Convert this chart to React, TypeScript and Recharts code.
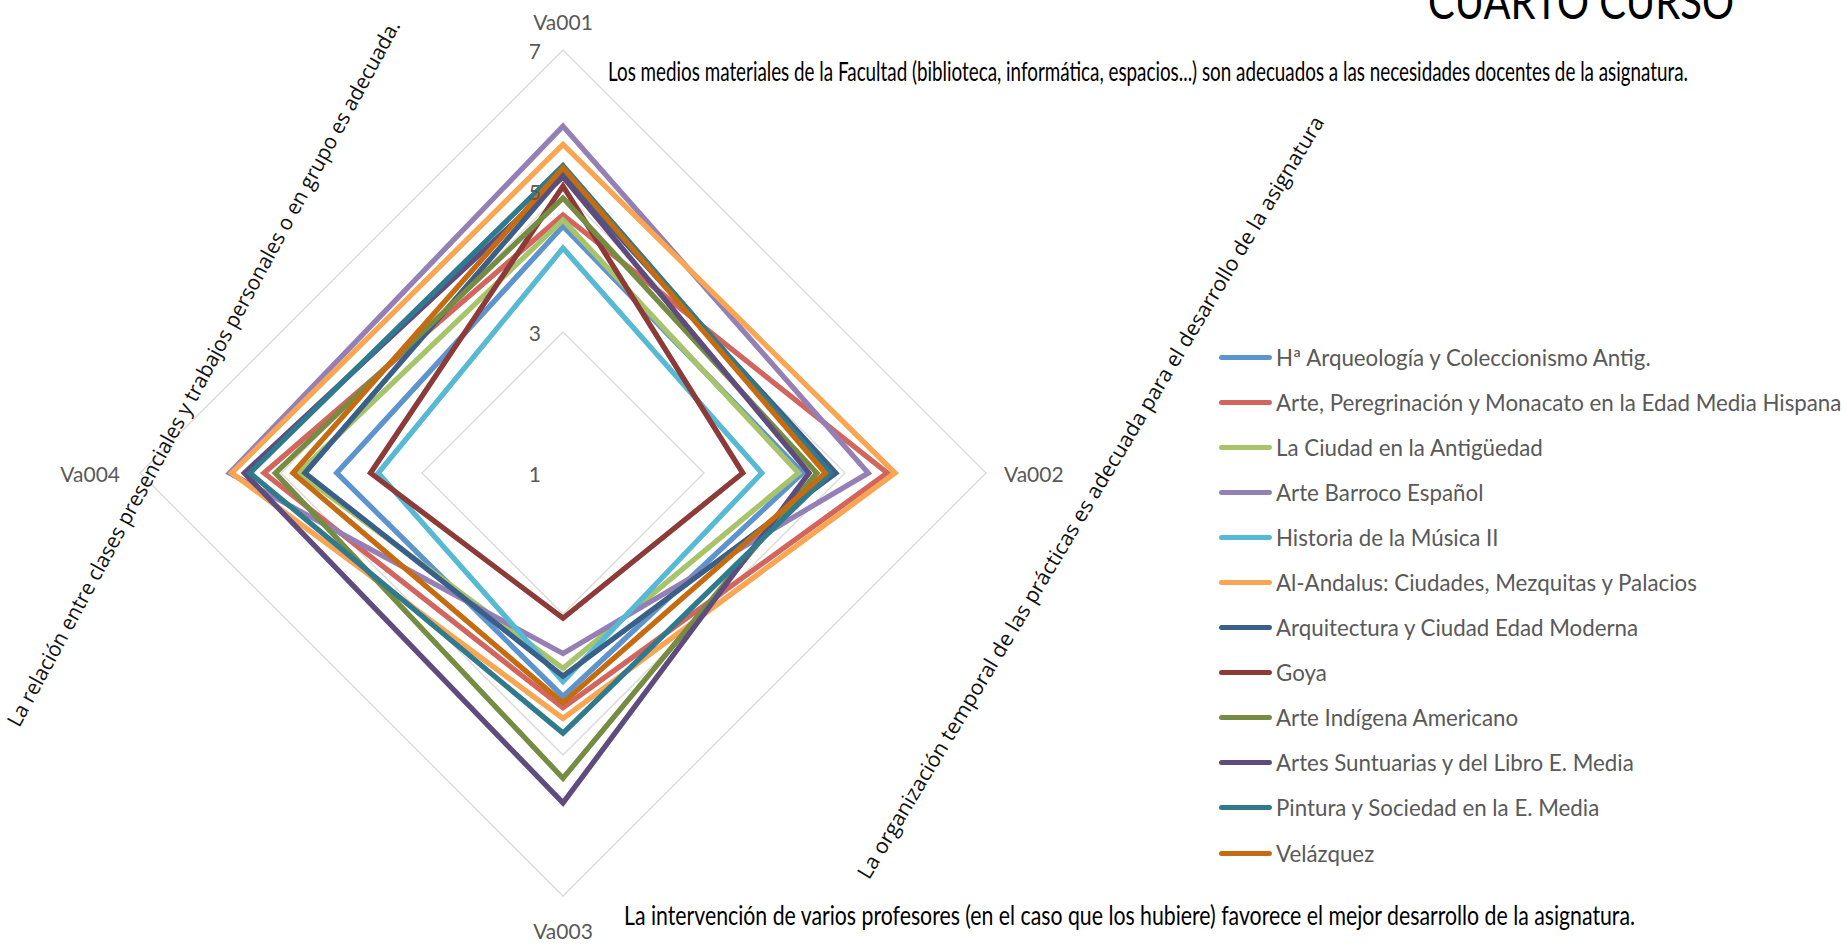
import React from 'react';
import { RadarChart, Radar, PolarGrid, PolarAngleAxis, PolarRadiusAxis } from 'recharts';

const CATEGORIES = ['Va001', 'Va002', 'Va003', 'Va004'];
const RADIUS_TICKS = [1, 3, 5, 7];

const SERIES_NAMES = [
  'Hª Arqueología y Coleccionismo Antig.',
  'Arte, Peregrinación y Monacato en la Edad Media Hispana',
  'La Ciudad en la Antigüedad',
  'Arte Barroco Español',
  'Historia de la Música II',
  'Al-Andalus: Ciudades, Mezquitas y Palacios',
  'Arquitectura y Ciudad Edad Moderna',
  'Goya',
  'Arte Indígena Americano',
  'Artes Suntuarias y del Libro E. Media',
  'Pintura y Sociedad en la E. Media',
  'Velázquez',
];

const SERIES_COLORS = [
  '#5E94CE', '#D2665F', '#A8C46A', '#9480B5', '#57B9D4', '#F9A552',
  '#3A6089', '#8C3B38', '#758C42', '#5F4C7E', '#2F7A8D', '#C56C12',
];

// values for Va001, Va002, Va003, Va004
const S01 = [4.5, 4.4, 4.17, 4.21];
const S02 = [4.66, 5.6, 4.33, 5.24];
const S03 = [4.59, 4.34, 3.77, 4.75];
const S04 = [5.92, 5.33, 3.56, 5.73];
const S05 = [4.19, 3.82, 3.96, 3.62];
const S06 = [5.66, 5.71, 4.48, 5.7];
const S07 = [5.23, 4.87, 3.88, 4.66];
const S08 = [5.07, 3.55, 3.06, 3.73];
const S09 = [4.9, 4.6, 5.33, 5.08];
const S10 = [5.2, 4.49, 5.68, 5.52];
const S11 = [5.36, 4.79, 4.69, 5.44];
const S12 = [5.33, 4.72, 4.26, 4.83];

const SERIES_VALUES = [S01, S02, S03, S04, S05, S06, S07, S08, S09, S10, S11, S12];

const TITLE = 'CUARTO CURSO';
const NOTE_TOP = 'Los medios materiales de la Facultad (biblioteca, informática, espacios...) son adecuados a las necesidades docentes de la asignatura.';
const NOTE_BOTTOM = 'La intervención de varios profesores (en el caso que los hubiere) favorece el mejor desarrollo de la asignatura.';
const NOTE_LEFT = 'La relación entre clases presenciales y trabajos personales o en grupo es adecuada.';
const NOTE_RIGHT = 'La organización temporal de las prácticas es adecuada para el desarrollo de la asignatura';

const data = CATEGORIES.map((axis, i) => {
  const row: Record<string, any> = { axis };
  SERIES_VALUES.forEach((vals, s) => {
    row['s' + s] = vals[i];
  });
  return row;
});

const LABEL_FONT = 'Lato, "Open Sans", sans-serif';
const NOTE_SCALE = 0.67;

const RadiusTick = (props: any) => {
  const { x, y, payload } = props;
  return (
    <text x={x - 22} y={y} textAnchor="end" dominantBaseline="central" fill="#595959" fontSize={21} fontFamily={LABEL_FONT}>
      {payload.value}
    </text>
  );
};

const AngleTick = (props: any) => {
  const { x, y, payload, index } = props;
  let tx = x;
  let ty = y;
  let anchor: any = 'middle';
  if (index === 0) { ty = y - 21; }
  else if (index === 1) { tx = x + 10; anchor = 'start'; }
  else if (index === 2) { ty = y + 26; }
  else { tx = x - 12; anchor = 'end'; }
  return (
    <text x={tx} y={ty} textAnchor={anchor} dominantBaseline="central" fill="#595959" fontSize={21} fontFamily={LABEL_FONT}>
      {payload.value}
    </text>
  );
};

export default function App() {
  return (
    <div style={{ position: 'absolute', left: 0, top: 0, width: 1847, height: 949, background: '#fff', overflow: 'hidden' }}>
      <RadarChart
        width={1847}
        height={949}
        data={data}
        cx={563}
        cy={473}
        outerRadius={423}
        margin={{ top: 0, right: 0, bottom: 0, left: 0 }}
      >
        <PolarGrid gridType="polygon" radialLines={false} stroke="#D9D9D9" strokeWidth={1.3} />
        <PolarAngleAxis dataKey="axis" tick={<AngleTick />} tickLine={false} axisLine={false} />
        <PolarRadiusAxis
          angle={90}
          type="number"
          domain={[1, 7]}
          ticks={RADIUS_TICKS}
          tick={<RadiusTick />}
          axisLine={false}
          tickLine={false}
        />
        {SERIES_NAMES.map((name, s) => (
          <Radar
            key={name}
            name={name}
            dataKey={'s' + s}
            stroke={SERIES_COLORS[s]}
            strokeWidth={5.3}
            fill="none"
            fillOpacity={0}
            dot={false}
            isAnimationActive={false}
          />
        ))}
      </RadarChart>

      <svg width={1847} height={949} style={{ position: 'absolute', left: 0, top: 0, pointerEvents: 'none' }}>
        <text x={1581} y={19} textAnchor="middle" fontSize={48} fontFamily={LABEL_FONT} fill="#000" textLength={306} lengthAdjust="spacingAndGlyphs">
          {TITLE}
        </text>
        <g transform={`translate(608,81) scale(${NOTE_SCALE},1)`}>
          <text x={0} y={0} fontSize={27} fontFamily={LABEL_FONT} fill="#000" textLength={1080 / NOTE_SCALE} lengthAdjust="spacingAndGlyphs">
            {NOTE_TOP}
          </text>
        </g>
        <g transform={`translate(624,925) scale(${NOTE_SCALE},1)`}>
          <text x={0} y={0} fontSize={27} fontFamily={LABEL_FONT} fill="#000" textLength={1011 / NOTE_SCALE} lengthAdjust="spacingAndGlyphs">
            {NOTE_BOTTOM}
          </text>
        </g>
        <g transform="translate(203,373) rotate(-61.5)">
          <text x={0} y={0} textAnchor="middle" dominantBaseline="central" fontSize={21} fontFamily='"Open Sans", sans-serif' fill="#111" textLength={800} lengthAdjust="spacingAndGlyphs">
            {NOTE_LEFT}
          </text>
        </g>
        <g transform="translate(1090,497) rotate(-59)">
          <text x={0} y={0} textAnchor="middle" dominantBaseline="central" fontSize={21} fontFamily='"Open Sans", sans-serif' fill="#111" textLength={885} lengthAdjust="spacingAndGlyphs">
            {NOTE_RIGHT}
          </text>
        </g>
      </svg>

      <div style={{ position: 'absolute', left: 1219, top: 334.5, fontFamily: LABEL_FONT }}>
        {SERIES_NAMES.map((name, s) => (
          <div key={name} style={{ height: 45.1, display: 'flex', alignItems: 'center', whiteSpace: 'nowrap' }}>
            <span style={{ display: 'inline-block', width: 53, height: 5, borderRadius: 3, background: SERIES_COLORS[s] }} />
            <span style={{ marginLeft: 4, fontSize: 22.3, color: '#595959' }}>{name}</span>
          </div>
        ))}
      </div>
    </div>
  );
}
